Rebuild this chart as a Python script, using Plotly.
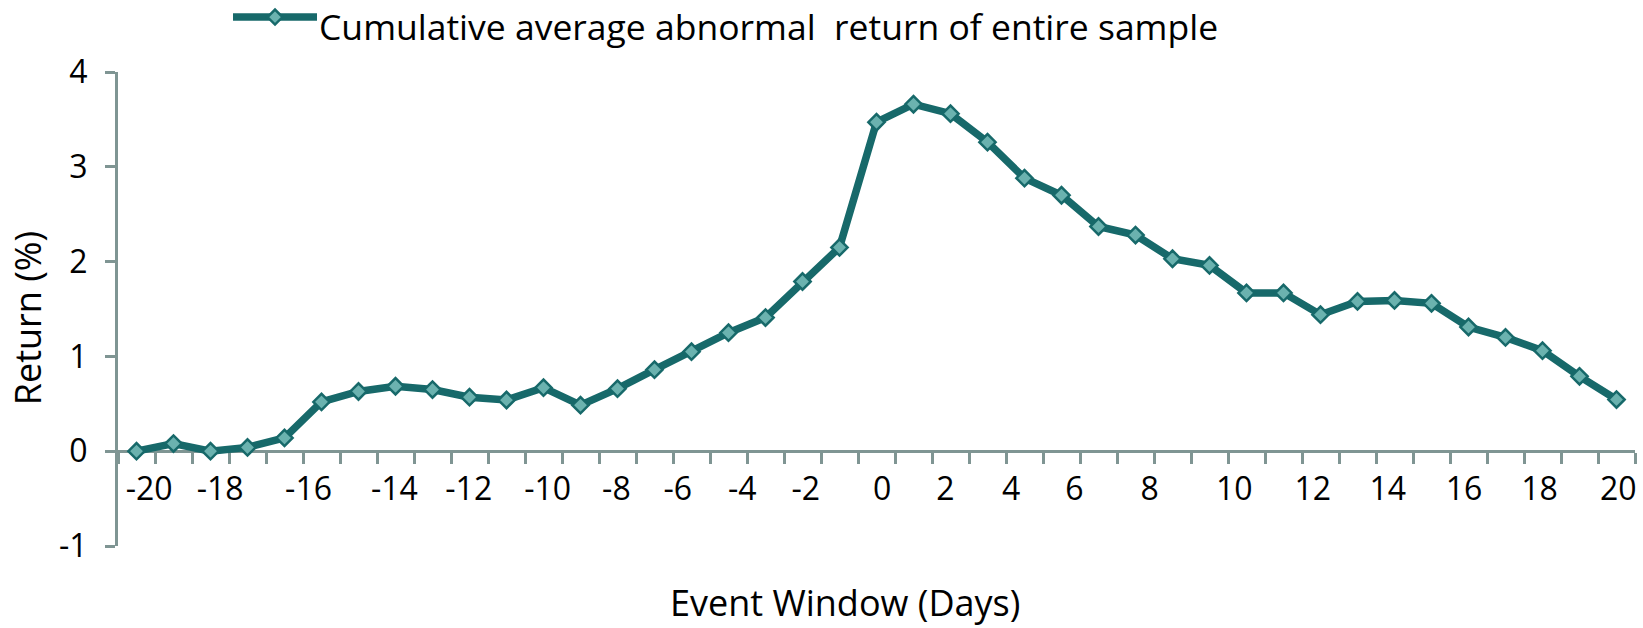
import plotly.graph_objects as go

# ---- data ----
days = list(range(-20, 21))
car = [0.00, 0.08, 0.00, 0.04, 0.14, 0.52, 0.63, 0.685, 0.65, 0.57,
       0.54, 0.67, 0.485, 0.66, 0.86, 1.05, 1.25, 1.41, 1.79, 2.15,
       3.47, 3.66, 3.56, 3.26, 2.88, 2.70, 2.37, 2.28, 2.03, 1.96,
       1.67, 1.67, 1.44, 1.58, 1.59, 1.56, 1.31, 1.20, 1.06, 0.79, 0.545]
x_tick_labels = ["-20", "-18", "-16", "-14", "-12", "-10", "-8", "-6", "-4", "-2",
                 "0", "2", "4", "6", "8", "10", "12", "14", "16", "18", "20"]
y_tick_vals = [-1, 0, 1, 2, 3, 4]
y_tick_labels = ["-1", "0", "1", "2", "3", "4"]
series_name = "Cumulative average abnormal\u00a0 return of entire sample"
x_title = "Event Window (Days)"
y_title = "Return (%)"

# ---- layout helpers (label placement as it appears in the reference) ----
x_label_pos = [-19.66, -17.74, -15.35, -13.03, -11.02, -8.89, -7.03, -5.37, -3.63, -1.91,
               0.15, 1.86, 3.64, 5.35, 7.38, 9.67, 11.79, 13.82, 15.88, 17.92, 20.05]
x_minor_ticks = [d + 0.5 for d in range(days[0] - 1, days[-1] + 1)]

LINE = "#17696a"
FILL = "#6bb2af"
AXIS = "#7f9593"
FONT = "Open Sans"

fig = go.Figure()
fig.add_trace(go.Scatter(
    x=days, y=car, mode="lines+markers", name=series_name,
    line=dict(color=LINE, width=7.5),
    marker=dict(symbol="diamond", size=12.5, color=FILL, line=dict(color=LINE, width=2.5)),
    cliponaxis=False, showlegend=False,
))

# legend key drawn as in the reference (long line with a diamond in the middle)
LEG_X, LEG_Y = 0.1035, 1.116
fig.add_shape(type="line", xref="paper", yref="paper",
              xsizemode="pixel", ysizemode="pixel", xanchor=LEG_X, yanchor=LEG_Y,
              x0=-42, x1=42, y0=0, y1=0,
              line=dict(color=LINE, width=7.5))
fig.add_shape(type="path", xref="paper", yref="paper",
              xsizemode="pixel", ysizemode="pixel", xanchor=LEG_X, yanchor=LEG_Y,
              path="M -7.5 0 L 0 7.5 L 7.5 0 L 0 -7.5 Z",
              fillcolor=FILL, line=dict(color=LINE, width=2.5))
fig.add_annotation(text=series_name, xref="paper", yref="paper",
                   x=0.132, y=1.097, xanchor="left", yanchor="middle", borderpad=0,
                   showarrow=False, font=dict(size=35.5, family=FONT, color="black"))

# axis titles
fig.add_annotation(text=x_title, xref="paper", yref="paper",
                   x=0.479, y=-0.12, xanchor="center", yanchor="middle", borderpad=0,
                   showarrow=False, font=dict(size=36, family=FONT, color="black"))
fig.add_annotation(text=y_title, xref="paper", yref="paper",
                   x=-0.0598, y=0.481, xanchor="center", yanchor="middle", textangle=-90,
                   borderpad=0,
                   showarrow=False, font=dict(size=36, family=FONT, color="black"))

fig.update_layout(
    width=1643, height=628,
    margin=dict(l=118, r=8, t=72, b=82, autoexpand=False),
    paper_bgcolor="white", plot_bgcolor="white",
    font=dict(family=FONT, color="black", size=32),
    showlegend=False,
    xaxis=dict(
        range=[days[0] - 0.5, days[-1] + 0.5],
        anchor="free", position=0.2, layer="below traces",
        showline=True, linecolor=AXIS, linewidth=3,
        showgrid=False, zeroline=False,
        tickmode="array", tickvals=x_label_pos, ticktext=x_tick_labels,
        ticks="", ticklabelstandoff=8, ticklabeloverflow="allow",
        tickfont=dict(size=32, family=FONT),
        minor=dict(tickmode="array", tickvals=x_minor_ticks, ticks="outside",
                   ticklen=11, tickwidth=2.5, tickcolor=AXIS, showgrid=False),
    ),
    yaxis=dict(
        range=[-1, 4], domain=[0, 1], layer="below traces",
        showline=True, linecolor=AXIS, linewidth=3,
        showgrid=False, zeroline=False,
        tickmode="array", tickvals=y_tick_vals, ticktext=y_tick_labels,
        ticks="outside", ticklen=10, tickwidth=2.5, tickcolor=AXIS,
        tickfont=dict(size=32, family=FONT),
        ticklabelstandoff=11,
    ),
)

# remove the browser's default page margin so the figure fills the window exactly
fig.write_html("out.html", config={"displayModeBar": False},
               post_script="document.body.style.margin='0';")
